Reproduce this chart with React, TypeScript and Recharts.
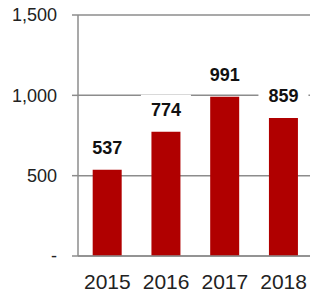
import React from "react";
import {
  BarChart,
  Bar,
  XAxis,
  YAxis,
  CartesianGrid,
  LabelList,
} from "recharts";

// Values
const years = ["2015", "2016", "2017", "2018"];
const amounts = [537, 774, 991, 859];
const yTicks = [0, 500, 1000, 1500];

const data = years.map((year, i) => ({ year, value: amounts[i] }));

const font = '"Liberation Sans", Arial, Helvetica, sans-serif';
const barColor = "#B00000";
const gridColor = "#8c8c8c";

// Excel-style value label with a white box behind it
const ValueLabel = (props: any) => {
  const { x, y, width, value } = props;
  const cx = x + width / 2;
  const baseline = y - 16;
  return (
    <g>
      <rect x={cx - 25} y={baseline - 21} width={50} height={28} fill="#ffffff" />
      <text
        x={cx}
        y={baseline}
        textAnchor="middle"
        fontFamily={font}
        fontSize={18}
        fontWeight="bold"
        fill="#111111"
      >
        {value}
      </text>
    </g>
  );
};

const formatY = (v: number) => (v === 0 ? "-" : v.toLocaleString("en-US"));

export default function App() {
  return (
    <div
      style={{
        position: "absolute",
        left: 0,
        top: 0,
        width: 310,
        height: 295,
        overflow: "hidden",
        background: "#ffffff",
      }}
    >
      <BarChart
        width={320}
        height={295}
        data={data}
        margin={{ top: 15, right: 7, bottom: 0, left: 0 }}
        barCategoryGap="25%"
      >
        <CartesianGrid
          vertical={false}
          stroke={gridColor}
          strokeWidth={1.5}
        />
        <XAxis
          dataKey="year"
          height={39}
          tickLine={false}
          tickSize={0}
          tickMargin={18}
          axisLine={{ stroke: gridColor, strokeWidth: 1.5 }}
          tick={{ fontSize: 21, fontFamily: font, fill: "#222222" }}
          interval={0}
        />
        <YAxis
          width={78}
          domain={[0, 1500]}
          ticks={yTicks}
          tickFormatter={formatY}
          tickSize={6}
          tickMargin={15}
          tickLine={{ stroke: gridColor, strokeWidth: 1.5 }}
          axisLine={{ stroke: gridColor, strokeWidth: 1.5 }}
          tick={{ fontSize: 18, fontFamily: font, fill: "#222222" }}
        />
        <Bar dataKey="value" fill={barColor} isAnimationActive={false}>
          <LabelList dataKey="value" content={ValueLabel} />
        </Bar>
      </BarChart>
    </div>
  );
}
